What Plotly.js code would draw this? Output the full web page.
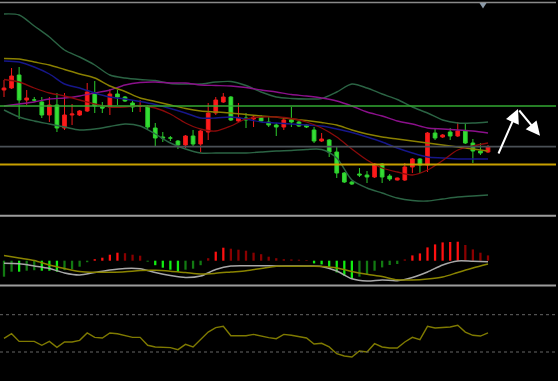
<!DOCTYPE html>
<html><head><meta charset="utf-8">
<script src="https://cdn.plot.ly/plotly-3.0.1.min.js"></script>
<style>html,body{margin:0;padding:0;background:#000;}#chart{width:558px;height:381px;}</style>
</head><body><div id="chart"></div>
<script>
// ---- candles (price units) ----
const openP  = [160,162,175,150,150,148,135,145,122,135, 135,139,157,143,143,156,153,147,144,143, 122,113,112,109,105,114,106,118,137,148, 153,129,132,131,133,128,125,123,130,128, 125,120,109,110,98,77,68,76,75,73, 86,74,70,70,83,91,85,117,113,118, 114,119,107,99,98];
const highP  = [170,182,183,160,153,153,153,157,157,146, 140,167,169,148,161,160,154,150,150,145, 127,118,114,110,115,120,120,147,153,157, 154,147,137,135,135,133,127,133,143,129, 126,123,117,111,103,78,69,82,79,87, 87,76,72.5,87,92,92,118,122,116,122, 128,127,111,107,105];
const lowP   = [153,161,131,145,148,132,128,118,120,125, 134,138,137,137,135,145,148,138,138,121, 104,108,109,101,102,104,98,110,135,147, 129,128,122,123,128,123,114,120,123,123, 122,107,108,93,72,67,65,73,67,72, 67,69,69.5,69,77,77,78,110,112,110, 113,106,87,95,97];
const closeP = [162,174,150,152,150,135,145,122,135,136, 139,158,144,142,156,153,149,143,144,123, 112,112,112,105,114,106,119,137,150,153, 130,132,130,133,129,125,123,130,128,124, 123,109,111,98,77,68,66,75,73,86, 73,71,72,83,91,85,117,112,115,114, 119,107,99,97,103];

// ---- overlay lines, sampled every 2 bars ----
const lineIdx = [0,2,4,6,8,10,12,14,16,18,20,22,24,26,28,30,32,34,36,38,40,42,44,46,48,50,52,54,56,58,60,62,64];
const bbUpper = [236,235,224,213,200,193,185,175,172,170.5,169.5,166.5,166,166,168,168.5,164.5,158,153,151.5,151,151.5,158,166,162,156,150.5,143,137,130,127,127,128];
const bbLower = [140,133,129,126,123,120,121,123.5,126,124,116,107,101,97,97,97,97,98,99,99.5,100.5,100.5,92,70,62,57,52,49.5,49,51,53,54,55];
const maOlive = [191.5,191,188,185,180.5,176,172,164,158.5,152,148.5,145,141.5,139,138,137,135.5,134,133,131,129.5,127.5,125,120,116,113,111,109,107,105,103,101,99];
const maNavy  = [189,188,183,176,166,162,157,153,151,148.5,145.5,141.5,137,132,132,133,131,128,127,126,125,124,121,117.5,113,108,102,97,93,92,91,91,91];
const maRed   = [170.5,168,162,157,154,150,146,143,143,144.5,142,136,127,121,119,124,131,133,133,131.5,128,122,113,101,90,82,78,75,80,89.5,100,104,107];
const maPurple= [144,146,148,151,152,154,157,160,165,167.5,168,167,167,165,164.5,164,162.5,160,158,155.5,154,152,149,144,138,134,129,126,122,121,120,119,117];

// horizontal price levels
const levels = [144, 103.3, 85.5];

// ---- MACD ----
const macdHist = [-16,-11,-11,-10,-9.5,-10,-10,-11,-9.5,-8.5, -6,-1.5,1.5,3,6,8,7.5,6,5,-1, -4.5,-7,-9,-11,-9,-8,-4.5,2.5,9,13, 12,11,10,8,6.5,4,2.5,1.5,1.3,1, 0.7,-2.7,-3.7,-6,-11.7,-15,-17.7,-16,-13.3,-10, -6.7,-4.3,-3.3,1.3,5.3,7.3,13.3,16.3,18.3,18.7, 19,15.7,11.3,8,5.3];
const macdMain = [5.2,2.7,0.2,-4.3,-7.8,-10.8,-11.6,-11.5,-11.0,-9.8,-9.6,-10.5,-11.9,-13.3,-12.6,-11.3,-10.0,-7.8,-5.5,-5.6,-5.3,-5.8,-7.3,-10.8,-13.6,-15.8,-19.1,-19.3,-18.3,-16.3,-11.8,-7.3,-3.3];
const macdSignal = [-2.6,-3.1,-5.3,-7.8,-12.3,-14.3,-11.8,-9.3,-7.7,-8.0,-11.8,-14.8,-16.8,-15.3,-8.8,-5.3,-5.0,-5.0,-5.3,-5.3,-5.3,-5.8,-10.3,-18.1,-20.3,-19.3,-20.0,-16.8,-11.3,-4.3,-0.3,-0.6,-1.0];

// ---- RSI ----
const rsi = [44.6,49.6,41.4,41.4,41.4,37.2,41.4,35,40.7,40.7, 42.5,50.4,45.7,45,50.4,49.6,47.9,45.7,45.7,37.2, 35.4,34.7,34.7,32.5,38.2,35.4,43.2,51.4,56.1,57.5, 47.5,47.9,47.5,48.9,46.8,45.4,44.3,48.9,47.9,46.1, 45,38.6,39.3,35.4,28.2,25.7,24.7,31.1,30,38.9, 35.4,34.3,34.3,40.7,45.7,43.2,57.5,55.7,56.1,56.8, 58.6,51.4,47.9,47.1,50.4];
const rsiLevels = [70, 30];

// ---- arrow drawing points (bar index, price) ----
const arrowX = [65.3, 67.97, 70.88];
const arrowP = [95, 141, 114.3];

const idx = openP.map((_, i) => i);

function ln(y, color, w, axis) {
  return {type:'scatter', mode:'lines', x: lineIdx, y: y, yaxis: axis || 'y',
    line:{color: color, width: w, shape:'spline', smoothing:0.8}, hoverinfo:'skip'};
}

const histColors = macdHist.map((v, i) => {
  const grow = i > 0 && Math.abs(v) >= Math.abs(macdHist[i-1]);
  if (v >= 0) return grow ? '#ff1010' : '#8a0000';
  return grow ? '#11ee11' : '#127a12';
});

const traces = [
  ln(bbUpper, '#2b6444', 1.4),
  ln(bbLower, '#2b6444', 1.4),
  ln(maPurple, '#8b108b', 1.4),
  ln(maOlive, '#8a8000', 1.4),
  ln(maNavy, '#16168a', 1.4),
  ln(maRed, '#8a0a0a', 1.3),
  {type:'candlestick', x: idx, open: openP, high: highP, low: lowP, close: closeP,
   increasing:{line:{color:'#ee1a1a', width:1}, fillcolor:'#ff1a1a'},
   decreasing:{line:{color:'#2ccf2c', width:1}, fillcolor:'#35dd35'},
   whiskerwidth:0, hoverinfo:'skip'},
  {type:'bar', x: idx, y: macdHist, yaxis:'y2', width:0.3,
   marker:{color: histColors, line:{width:0}}, hoverinfo:'skip'},
  {type:'scatter', mode:'lines', x: lineIdx, y: macdSignal, yaxis:'y2',
   line:{color:'#a8a8a8', width:1.5, shape:'spline', smoothing:0.8}, hoverinfo:'skip'},
  {type:'scatter', mode:'lines', x: lineIdx, y: macdMain, yaxis:'y2',
   line:{color:'#8a8400', width:1.5, shape:'spline', smoothing:0.8}, hoverinfo:'skip'},
  {type:'scatter', mode:'lines', x: idx, y: rsi, yaxis:'y3',
   line:{color:'#7f7a00', width:1.4}, hoverinfo:'skip'}
];

const levelColors = ['#33aa33', '#4a5056', '#c8a000'];
const levelWidths = [1.5, 1.8, 2];
const W = 558, H = 381;
const py = p => 1 - p / H;
const shapes = [];
levels.forEach((v, i) => shapes.push({type:'line', xref:'paper', yref:'y', x0:0, x1:556/W, y0:v, y1:v,
  line:{color: levelColors[i], width: levelWidths[i]}}));
rsiLevels.forEach(v => shapes.push({type:'line', xref:'paper', yref:'y3', x0:0, x1:556/W, y0:v, y1:v,
  line:{color:'#666666', width:1, dash:'dot'}}));
// panel frame lines
shapes.push({type:'line', xref:'paper', yref:'paper', x0:0, x1:556/W, y0:py(2.5), y1:py(2.5), line:{color:'#8a8a8a', width:1.5}});
shapes.push({type:'line', xref:'paper', yref:'paper', x0:0, x1:556/W, y0:py(215.7), y1:py(215.7), line:{color:'#9c9c9c', width:2}});
shapes.push({type:'line', xref:'paper', yref:'paper', x0:0, x1:556/W, y0:py(285.5), y1:py(285.5), line:{color:'#9c9c9c', width:2}});
// shift marker triangle
shapes.push({type:'path', xref:'paper', yref:'paper',
  path:`M ${479.5/W},${py(3)} L ${486.5/W},${py(3)} L ${483/W},${py(8.5)} Z`,
  fillcolor:'#8c9aa8', line:{width:0}});

const annotations = [
  {x: arrowX[1], y: arrowP[1], ax: arrowX[0], ay: arrowP[0], xref:'x', yref:'y', axref:'x', ayref:'y',
   text:'', showarrow:true, arrowhead:2, arrowsize:1.4, arrowwidth:2, arrowcolor:'#ffffff', standoff:0},
  {x: arrowX[2], y: arrowP[2], ax: arrowX[1], ay: arrowP[1], xref:'x', yref:'y', axref:'x', ayref:'y',
   text:'', showarrow:true, arrowhead:2, arrowsize:1.4, arrowwidth:2, arrowcolor:'#ffffff', standoff:0}
];

const ax = {visible:false, showgrid:false, zeroline:false, fixedrange:true};
const layout = {
  width: W, height: H, margin:{l:0, r:0, t:0, b:0},
  paper_bgcolor:'#000000', plot_bgcolor:'#000000',
  showlegend:false, hovermode:false, dragmode:false,
  boxgap:0.3,
  xaxis: Object.assign({}, ax, {domain:[0,1], range:[-4/7.5625, 64 + 70/7.5625], rangeslider:{visible:false}}),
  yaxis: Object.assign({}, ax, {domain:[py(214), py(4)], range:[36, 246]}),
  yaxis2: Object.assign({}, ax, {domain:[py(284), py(217)], range:[-23.3, 43.7]}),
  yaxis3: Object.assign({}, ax, {domain:[0, py(287)], range:[-1.1, 99.7]}),
  shapes: shapes, annotations: annotations
};
Plotly.newPlot('chart', traces, layout, {staticPlot:true, displayModeBar:false});
</script>
</body></html>
